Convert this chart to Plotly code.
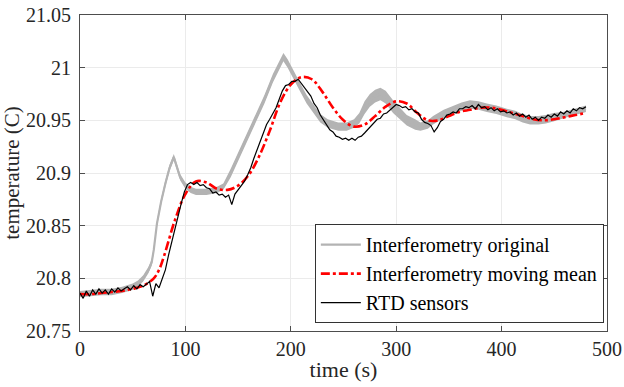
import plotly.graph_objects as go

# ---------------- data ----------------
# Interferometry original: centre of the noisy band and half-width of the band
gray_t = [0, 10, 20, 30, 40, 50, 55, 60, 65, 68, 70, 73, 77, 81, 85, 89, 92, 95, 100, 105,
          110, 120, 130, 136, 143, 150, 158, 166, 175, 183, 189, 193, 197, 202, 208, 215,
          222, 228, 235, 245, 253, 260, 265, 270, 275, 280, 285, 290, 297, 305, 310, 318,
          323, 330, 335, 345, 354, 362, 370, 378, 386, 395, 405, 413, 420, 427, 435, 442,
          449, 458, 466, 477, 480]
gray_v = [20.785, 20.786, 20.787, 20.787, 20.789, 20.792, 20.795, 20.800, 20.808, 20.815,
          20.827, 20.852, 20.873, 20.890, 20.905, 20.915, 20.906, 20.896, 20.888, 20.884,
          20.882, 20.882, 20.884, 20.887, 20.900, 20.915, 20.932, 20.950, 20.970, 20.990,
          21.003, 21.010, 21.004, 20.995, 20.983, 20.970, 20.960, 20.952, 20.947, 20.944,
          20.944, 20.947, 20.952, 20.962, 20.969, 20.973, 20.975, 20.972, 20.963, 20.955,
          20.950, 20.946, 20.944, 20.946, 20.950, 20.956, 20.960, 20.963, 20.965, 20.964,
          20.962, 20.960, 20.957, 20.955, 20.952, 20.950, 20.950, 20.951, 20.953, 20.955,
          20.957, 20.960, 20.961]
gray_hw = [0.003, 0.003, 0.003, 0.003, 0.003, 0.003, 0.003, 0.003, 0.003, 0.003,
           0.003, 0.003, 0.003, 0.003, 0.003, 0.003, 0.003, 0.003, 0.003, 0.003,
           0.003, 0.003, 0.003, 0.003, 0.004, 0.004, 0.004, 0.004, 0.004, 0.004,
           0.004, 0.004, 0.004, 0.004, 0.004, 0.004, 0.004, 0.004, 0.004, 0.004,
           0.004, 0.004, 0.005, 0.006, 0.006, 0.006, 0.006, 0.006, 0.006, 0.006,
           0.005, 0.005, 0.004, 0.004, 0.004, 0.004, 0.004, 0.004, 0.004, 0.004,
           0.004, 0.004, 0.004, 0.004, 0.004, 0.004, 0.004, 0.004, 0.004, 0.003,
           0.003, 0.003, 0.003]

# Interferometry moving mean
red_t = list(range(0, 481, 10))
red_t = red_t[:8] + [75] + red_t[8:]
red_v = [20.785, 20.785, 20.786, 20.787, 20.788, 20.790, 20.793, 20.800, 20.808, 20.822,
         20.855, 20.880, 20.892, 20.891, 20.885, 20.884, 20.888, 20.898, 20.916, 20.940,
         20.967, 20.984, 20.991, 20.989, 20.977, 20.962, 20.950, 20.944, 20.946, 20.954,
         20.963, 20.968, 20.966, 20.957, 20.950, 20.950, 20.954, 20.958, 20.960, 20.962,
         20.962, 20.960, 20.957, 20.954, 20.951, 20.950, 20.951, 20.953, 20.955, 20.957]

# RTD sensors (sampled every 3 s)
black_t = list(range(0, 481, 3))
black_v = [20.786, 20.781, 20.788, 20.783, 20.789, 20.785, 20.790, 20.786, 20.789, 20.785,
           20.790, 20.787, 20.791, 20.788, 20.790, 20.792, 20.789, 20.793, 20.790, 20.794,
           20.792, 20.795, 20.797, 20.783, 20.795, 20.791, 20.799, 20.808, 20.822, 20.835,
           20.848, 20.858, 20.871, 20.882, 20.889, 20.891, 20.889, 20.891, 20.888, 20.889,
           20.886, 20.885, 20.881, 20.882, 20.879, 20.880, 20.877, 20.879, 20.870, 20.880,
           20.884, 20.889, 20.892, 20.898, 20.905, 20.914, 20.922, 20.931, 20.937, 20.946,
           20.951, 20.957, 20.962, 20.970, 20.978, 20.983, 20.984, 20.987, 20.987, 20.989,
           20.985, 20.982, 20.977, 20.973, 20.966, 20.962, 20.955, 20.950, 20.945, 20.941,
           20.939, 20.935, 20.934, 20.932, 20.933, 20.931, 20.933, 20.931, 20.934, 20.935,
           20.938, 20.941, 20.945, 20.947, 20.951, 20.952, 20.956, 20.957, 20.960, 20.962,
           20.965, 20.964, 20.962, 20.963, 20.960, 20.961, 20.958, 20.957, 20.951, 20.948,
           20.947, 20.945, 20.939, 20.943, 20.949, 20.951, 20.955, 20.956, 20.958, 20.957,
           20.961, 20.961, 20.963, 20.962, 20.964, 20.961, 20.965, 20.962, 20.963, 20.960,
           20.962, 20.959, 20.961, 20.958, 20.959, 20.957, 20.958, 20.955, 20.957, 20.954,
           20.956, 20.953, 20.955, 20.951, 20.953, 20.950, 20.953, 20.952, 20.955, 20.953,
           20.956, 20.954, 20.958, 20.956, 20.959, 20.957, 20.961, 20.959, 20.962, 20.961,
           20.963]
n = min(len(black_t), len(black_v))
black_t, black_v = black_t[:n], black_v[:n]

x_ticks = [0, 100, 200, 300, 400, 500]
y_ticks = [20.75, 20.8, 20.85, 20.9, 20.95, 21, 21.05]
y_labels = ["20.75", "20.8", "20.85", "20.9", "20.95", "21", "21.05"]

series_names = ["Interferometry original", "Interferometry moving mean", "RTD sensors"]

# ---------------- figure ----------------
GRAY = "#b3b3b3"
FONT = "Liberation Serif"

gray_lo = [v - h for v, h in zip(gray_v, gray_hw)]
gray_hi = [v + h for v, h in zip(gray_v, gray_hw)]

fig = go.Figure()
fig.add_trace(go.Scatter(x=gray_t, y=gray_lo, mode="lines", line=dict(width=0, color=GRAY),
                         showlegend=False, hoverinfo="skip"))
fig.add_trace(go.Scatter(x=gray_t, y=gray_hi, mode="lines", line=dict(width=0, color=GRAY),
                         fill="tonexty", fillcolor=GRAY, showlegend=False, hoverinfo="skip"))
fig.add_trace(go.Scatter(x=gray_t, y=gray_v, mode="lines", name=series_names[0],
                         line=dict(color=GRAY, width=2.2), legendgroup="a"))
fig.add_trace(go.Scatter(x=red_t, y=red_v, mode="lines", name=series_names[1],
                         line=dict(color="#ff0000", width=2.6, dash="dashdot", shape="spline"),
                         legendgroup="b"))
fig.add_trace(go.Scatter(x=black_t, y=black_v, mode="lines", name=series_names[2],
                         line=dict(color="#000000", width=1.2), legendgroup="c"))

axis_common = dict(
    showline=True, linecolor="#4d4d4d", linewidth=1, mirror="ticks",
    ticks="inside", ticklen=5, tickcolor="#4d4d4d", tickwidth=1,
    showgrid=True, gridcolor="#ebebeb", gridwidth=1, zeroline=False,
    tickfont=dict(family=FONT, size=20, color="#262626"), automargin=False,
)

fig.update_xaxes(range=[0, 500], tickvals=x_ticks, **axis_common,
                 title=dict(text="time (s)", font=dict(family=FONT, size=22, color="#262626"),
                            standoff=2))
fig.update_yaxes(range=[20.75, 21.05], tickvals=y_ticks, ticktext=y_labels, **axis_common,
                 ticklabelstandoff=4,
                 title=dict(text="temperature (C)", font=dict(family=FONT, size=21, color="#262626"),
                            standoff=0))

fig.update_layout(
    width=624, height=387,
    margin=dict(l=80, r=17, t=15, b=56),
    paper_bgcolor="white", plot_bgcolor="white",
    font=dict(family=FONT, size=20, color="#262626"),
    legend=dict(x=0.994, y=0.025, xanchor="right", yanchor="bottom",
                bgcolor="white", bordercolor="#333333", borderwidth=1,
                font=dict(family=FONT, size=20, color="#000000"),
                tracegroupgap=0, itemwidth=40),
    showlegend=True,
)

fig.write_html("out.html")
